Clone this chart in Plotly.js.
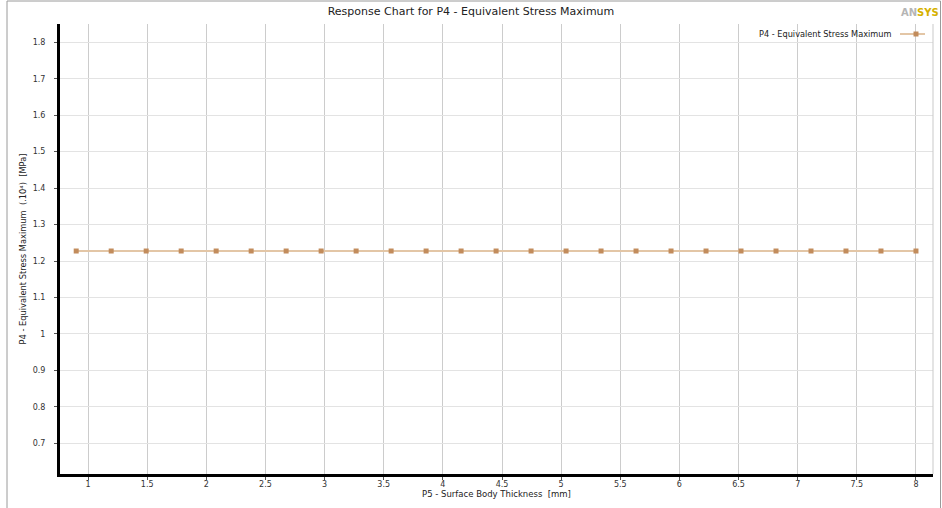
<!DOCTYPE html>
<html>
<head>
<meta charset="utf-8">
<script src="https://cdn.plot.ly/plotly-3.0.1.min.js"></script>
<style>
  html, body { margin: 0; padding: 0; background: #ffffff; }
  #chart { width: 942px; height: 508px; }
</style>
</head>
<body>
<div id="chart"></div>
<script>
// Design points: P5 surface body thickness [mm]
const thickness = [0.9, 1.1958, 1.4917, 1.7875, 2.0833, 2.3792, 2.675, 2.9708, 3.2667,
  3.5625, 3.8583, 4.1542, 4.45, 4.7458, 5.0417, 5.3375, 5.6333, 5.9292, 6.225,
  6.5208, 6.8167, 7.1125, 7.4083, 7.7042, 8.0];
// P4 equivalent stress maximum (x10^4 MPa)
const stressMax = [1.2275, 1.2275, 1.2275, 1.2275, 1.2275, 1.2275, 1.2275, 1.2275, 1.2275,
  1.2275, 1.2275, 1.2275, 1.2275, 1.2275, 1.2275, 1.2275, 1.2275, 1.2275, 1.2275,
  1.2275, 1.2275, 1.2275, 1.2275, 1.2275, 1.2275];
const seriesName = 'P4 - Equivalent Stress Maximum';

const lineColor = '#e3c6a6';
const markerColor = '#c28c5c';
const font = 'DejaVu Sans, sans-serif';

const trace = {
  x: thickness,
  y: stressMax,
  type: 'scatter',
  mode: 'lines+markers',
  name: seriesName,
  showlegend: false,
  line: { color: lineColor, width: 2 },
  marker: { symbol: 'square', size: 5, color: markerColor, line: { width: 0 } }
};

const layout = {
  width: 942,
  height: 508,
  margin: { l: 60, r: 9, t: 24, b: 34 },
  paper_bgcolor: '#ffffff',
  plot_bgcolor: '#ffffff',
  showlegend: false,
  title: {
    text: 'Response Chart for P4 - Equivalent Stress Maximum',
    font: { family: font, size: 11, color: '#222222' },
    x: 0.5, xref: 'container', xanchor: 'center',
    y: 0.978, yref: 'container', yanchor: 'middle'
  },
  xaxis: {
    range: [0.763, 8.144],
    tickmode: 'linear', tick0: 1, dtick: 0.5,
    showgrid: true, gridcolor: '#cccccc', gridwidth: 1,
    zeroline: false,
    showline: true, linecolor: '#000000', linewidth: 3,
    ticks: 'outside', ticklen: 3, tickcolor: '#555555', tickwidth: 1,
    ticklabelstandoff: -3,
    tickfont: { family: font, size: 8, color: '#333333' },
    title: {
      text: 'P5 - Surface Body Thickness  [mm]',
      font: { family: font, size: 8.5, color: '#222222' },
      standoff: 0
    },
    automargin: false
  },
  yaxis: {
    range: [0.616, 1.85],
    tickmode: 'linear', tick0: 0.7, dtick: 0.1,
    showgrid: true, gridcolor: '#e3e3e3', gridwidth: 1,
    zeroline: false,
    showline: true, linecolor: '#000000', linewidth: 3,
    ticks: 'outside', ticklen: 3, tickcolor: '#555555', tickwidth: 1,
    ticklabelstandoff: 7,
    tickfont: { family: font, size: 8, color: '#333333' },
    title: {
      text: 'P4 - Equivalent Stress Maximum  (.10⁴)  [MPa]',
      font: { family: font, size: 8.3, color: '#222222' },
      standoff: 5
    },
    automargin: false
  },
  shapes: [
    // outer frame
    { type: 'rect', xref: 'paper', yref: 'paper',
      x0: -53 / 873, x1: 880.5 / 873, y0: -40 / 450, y1: 473 / 450,
      line: { color: '#9a9a9a', width: 1 }, fillcolor: 'rgba(0,0,0,0)', layer: 'below' },
    // right edge of plot area
    { type: 'line', xref: 'paper', yref: 'paper', x0: 1, x1: 1, y0: 0, y1: 1,
      line: { color: '#c9c9c9', width: 1 } },
    // legend sample line
    { type: 'line', xref: 'paper', yref: 'paper',
      x0: 840 / 873, x1: 865 / 873, y0: 440 / 450, y1: 440 / 450,
      line: { color: lineColor, width: 2 } },
    // legend sample marker
    { type: 'rect', xref: 'paper', yref: 'paper',
      xsizemode: 'pixel', ysizemode: 'pixel',
      xanchor: 856 / 873, yanchor: 440 / 450,
      x0: -2.5, x1: 2.5, y0: -2.5, y1: 2.5,
      line: { width: 0 }, fillcolor: markerColor }
  ],
  annotations: [
    { xref: 'paper', yref: 'paper', x: 833 / 873, y: 440 / 450,
      xanchor: 'right', yanchor: 'middle', showarrow: false,
      text: seriesName,
      font: { family: font, size: 8.2, color: '#222222' } },
    { xref: 'paper', yref: 'paper', x: 881 / 873, y: 462 / 450,
      xanchor: 'right', yanchor: 'middle', showarrow: false,
      text: '<span style="color:#b5b5b5">AN</span><span style="color:#d6b100">SYS</span>',
      font: { family: 'DejaVu Sans, sans-serif', size: 10, weight: 700, color: '#b5b5b5' } }
  ]
};

Plotly.newPlot('chart', [trace], layout, { displayModeBar: false, staticPlot: true });
</script>
</body>
</html>
